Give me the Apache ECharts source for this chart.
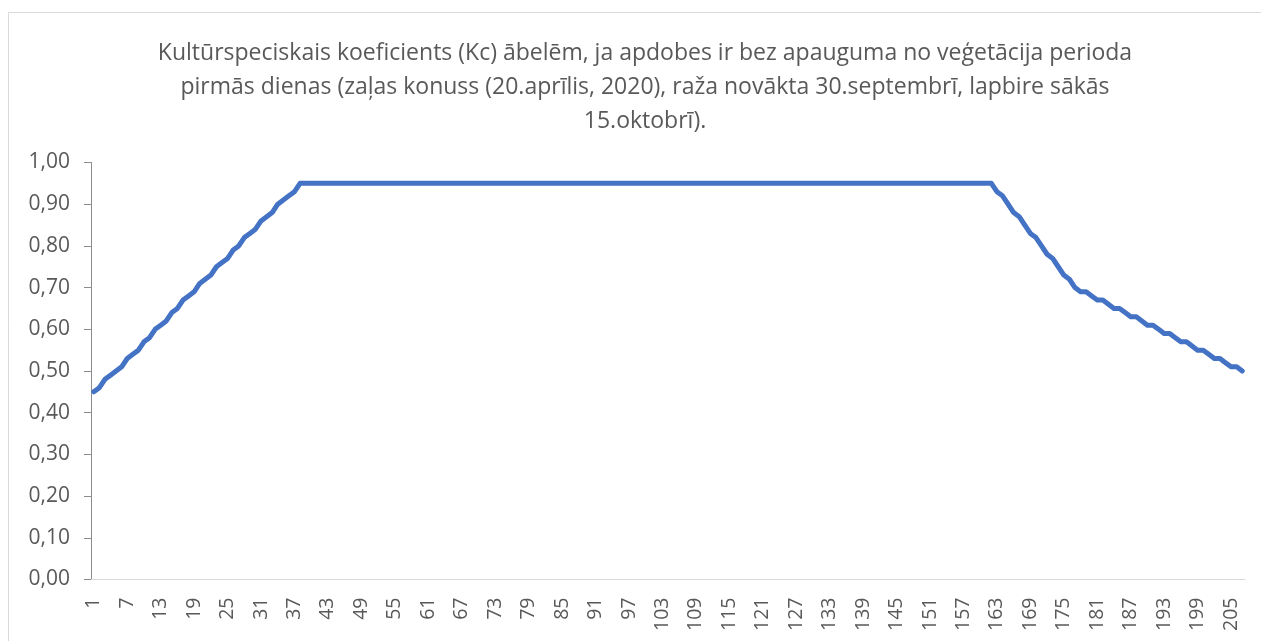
<!DOCTYPE html>
<html>
<head>
<meta charset="utf-8">
<script src="https://cdn.jsdelivr.net/npm/echarts@6/dist/echarts.min.js"></script>
<style>
html,body{margin:0;padding:0;background:#fff;}
#chart{width:1261px;height:641px;}
</style>
</head>
<body>
<div id="chart"></div>
<script>
const titleText = 'Kultūrspeciskais koeficients (Kc) ābelēm, ja apdobes ir bez apauguma no veģetācija perioda\npirmās dienas (zaļas konuss (20.aprīlis, 2020), raža novākta 30.septembrī, lapbire sākās\n15.oktobrī).';

// Days 1..207
const days = [];
for (let d = 1; d <= 207; d++) days.push(String(d));

// Kc values
const riseValues = [0.45,0.46,0.48,0.49,0.50,0.51,0.53,0.54,0.55,0.57,0.58,0.60,0.61,0.62,0.64,0.65,0.67,0.68,0.69,0.71,0.72,0.73,0.75,0.76,0.77,0.79,0.80,0.82,0.83,0.84,0.86,0.87,0.88,0.90,0.91,0.92,0.93]; // days 1-37
const plateauValues = [0.95,0.95,0.95,0.95,0.95,0.95,0.95,0.95,0.95,0.95,0.95,0.95,0.95,0.95,0.95,0.95,0.95,0.95,0.95,0.95,0.95,0.95,0.95,0.95,0.95,
0.95,0.95,0.95,0.95,0.95,0.95,0.95,0.95,0.95,0.95,0.95,0.95,0.95,0.95,0.95,0.95,0.95,0.95,0.95,0.95,0.95,0.95,0.95,0.95,0.95,
0.95,0.95,0.95,0.95,0.95,0.95,0.95,0.95,0.95,0.95,0.95,0.95,0.95,0.95,0.95,0.95,0.95,0.95,0.95,0.95,0.95,0.95,0.95,0.95,0.95,
0.95,0.95,0.95,0.95,0.95,0.95,0.95,0.95,0.95,0.95,0.95,0.95,0.95,0.95,0.95,0.95,0.95,0.95,0.95,0.95,0.95,0.95,0.95,0.95,0.95,
0.95,0.95,0.95,0.95,0.95,0.95,0.95,0.95,0.95,0.95,0.95,0.95,0.95,0.95,0.95,0.95,0.95,0.95,0.95,0.95,0.95,0.95,0.95,0.95,0.95]; // days 38-162
const fallValues = [0.93,0.92,0.90,0.88,0.87,0.85,0.83,0.82,0.80,0.78,0.77,0.75,0.73,0.72,0.70]; // days 163-177
const lateValues = [0.69,0.69,0.68,0.67,0.67,0.66,0.65,0.65,0.64,0.63,0.63,0.62,0.61,0.61,0.60,0.59,0.59,0.58,0.57,0.57,0.56,0.55,0.55,0.54,0.53,0.53,0.52,0.51,0.51,0.50]; // days 178-207
const kcValues = riseValues.concat(plateauValues, fallValues, lateValues);

const chart = echarts.init(document.getElementById('chart'));
const FONT = '"Open Sans", sans-serif';
chart.setOption({
  animation: false,
  backgroundColor: '#fff',
  graphic: [{
    type: 'rect', z: -10, silent: true,
    shape: {x: 8.5, y: 12.5, width: 1300, height: 700},
    style: {fill: '#fff', stroke: '#d9d9d9', lineWidth: 1}
  }],
  title: {
    text: titleText,
    left: 640,
    top: 31,
    textAlign: 'center',
    textStyle: {fontFamily: FONT, fontSize: 23, fontWeight: 'normal', color: '#595959', lineHeight: 34}
  },
  grid: {left: 91, right: 16, top: 162.5, bottom: 61.5, containLabel: false},
  xAxis: {
    type: 'category',
    data: days,
    boundaryGap: true,
    axisLine: {show: true, lineStyle: {color: '#d9d9d9', width: 1}},
    axisTick: {show: false},
    axisLabel: {interval: 5, rotate: 90, margin: 18, fontFamily: FONT, fontSize: 19.5, color: '#595959'},
    splitLine: {show: false}
  },
  yAxis: {
    type: 'value',
    min: 0, max: 1, interval: 0.1,
    axisLine: {show: true, lineStyle: {color: '#8c8c8c', width: 1}},
    axisTick: {show: true, length: 7, lineStyle: {color: '#8c8c8c'}},
    axisLabel: {margin: 21, fontFamily: FONT, fontSize: 21, color: '#595959',
      formatter: v => v.toFixed(2).replace('.', ',')},
    splitLine: {show: false}
  },
  series: [{
    type: 'line',
    data: kcValues,
    showSymbol: false,
    symbol: 'none',
    lineStyle: {color: '#4472C4', width: 5, cap: 'round', join: 'round'},
    itemStyle: {color: '#4472C4'}
  }]
});
</script>
</body>
</html>
